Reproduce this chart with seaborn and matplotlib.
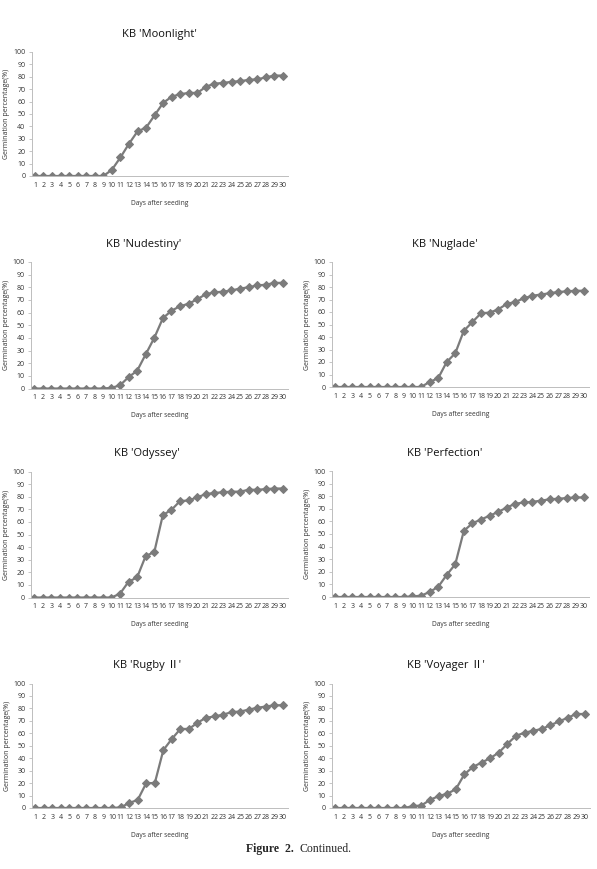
import numpy as np
import pandas as pd
import seaborn as sns
from matplotlib import pyplot as plt

days = list(range(1, 31))

moonlight = [0, 0, 0, 0, 0, 0, 0, 0, 0, 5, 15, 26, 36, 39, 49, 59, 64, 66, 67, 67,
             72, 74.5, 75, 76, 76.5, 77.5, 78, 79.5, 81, 81]
nudestiny = [0, 0, 0, 0, 0, 0, 0, 0, 0, 0.5, 2.5, 9, 14, 27, 40, 55.5, 61.5, 65, 67, 70.5,
             74.5, 76, 76.5, 77.5, 79, 80, 81.5, 82, 83.5, 83.5]
nuglade = [0, 0, 0, 0, 0, 0, 0, 0, 0, 0, 0, 4, 7, 20, 27, 45, 52, 59, 59.5, 62,
           66.5, 68, 71, 73, 74, 75, 76, 76.5, 77, 77]
odyssey = [0, 0, 0, 0, 0, 0, 0, 0, 0, 0, 3, 12.5, 16, 33, 36, 65.5, 69.5, 76.5, 77, 79.5,
           82, 83, 83.5, 84, 84, 85.5, 85.5, 86, 86.5, 86.5]
perfection = [0, 0, 0, 0, 0, 0, 0, 0, 0, 0.5, 1, 4, 8, 17.5, 26, 52.5, 58.5, 61.5, 64.5, 67.5,
              71, 74, 75, 75.5, 76.5, 77.5, 78, 78.5, 79, 79]
rugby = [0, 0, 0, 0, 0, 0, 0, 0, 0, 0, 0.5, 4, 6.5, 20, 20, 46.5, 55.5, 63.5, 63.5, 68.5,
         72.5, 73.5, 75, 77, 77.5, 79, 80.5, 81.5, 82.5, 82.5]
voyager = [0, 0, 0, 0, 0, 0, 0, 0, 0, 1.5, 2, 6.5, 9.5, 11.5, 15, 27, 33, 36.5, 40, 44.5,
           51.5, 58, 60.5, 62, 63.5, 66.5, 69.5, 72.5, 75.5, 75.5]

titles = ["KB 'Moonlight'", "KB 'Nudestiny'", "KB 'Nuglade'", "KB 'Odyssey'",
          "KB 'Perfection'", "KB 'Rugby \u2161'", "KB 'Voyager \u2161'"]
series = [moonlight, nudestiny, nuglade, odyssey, perfection, rugby, voyager]

sns.set_style('white')
plt.rcParams['font.family'] = ['Open Sans', 'Liberation Sans', 'Noto Sans CJK SC', 'DejaVu Sans']

W, H = 597, 869
fig = plt.figure(figsize=(W / 100, H / 100), dpi=100)

# left, right, top, bottom in pixels; title x in axes fraction
boxes = [(31.7, 288, 52, 176, 0.50),
         (31, 288, 262, 388.5, 0.44),
         (332, 589, 262, 387, 0.44),
         (31, 288, 471.5, 597.5, 0.45),
         (332, 589, 471, 597, 0.44),
         (32, 288, 683.5, 808, 0.45),
         (332, 590, 683.5, 808, 0.44)]

grey = '#7b7b7b'
spine = '#bdbdbd'
for (l, r, t, b, tx), title, vals in zip(boxes, titles, series):
    ax = fig.add_axes([l / W, 1 - b / H, (r - l) / W, (b - t) / H])
    df = pd.DataFrame({'day': days, 'pct': vals})
    sns.lineplot(data=df, x='day', y='pct', ax=ax, color=grey, linewidth=1.6,
                 marker='D', markersize=4, markeredgecolor=grey, markerfacecolor=grey)
    ax.set_xlim(0.62, 30.6)
    ax.set_ylim(0, 100)
    ax.set_yticks(np.arange(0, 101, 10))
    ax.set_xticks(days)
    ax.tick_params(axis='y', labelsize=5, length=2.5, width=0.6, color=spine,
                   labelcolor='#333333', pad=2, left=True)
    ax.tick_params(axis='x', labelsize=5, length=0, labelcolor='#333333', pad=4)
    for s in ['top', 'right']:
        ax.spines[s].set_visible(False)
    for s in ['left', 'bottom']:
        ax.spines[s].set_color(spine)
        ax.spines[s].set_linewidth(0.7)
    ax.set_xlabel('Days after seeding', fontsize=4.8, color='#333333', labelpad=8)
    ax.set_ylabel('Germination percentage(%)', fontsize=5, color='#333333', labelpad=2)
    ax.set_title(title, fontsize=8, x=tx, pad=11, color='#111111')

fig.text(294 / W, 1 - 849 / H, 'Figure  2.', ha='right', va='center', fontsize=8.5,
         fontweight='bold', family='Liberation Serif')
fig.text(299 / W, 1 - 849 / H, 'Continued.', ha='left', va='center', fontsize=8.5,
         family='Liberation Serif')

plt.savefig('out.png', dpi=100)
plt.close()
